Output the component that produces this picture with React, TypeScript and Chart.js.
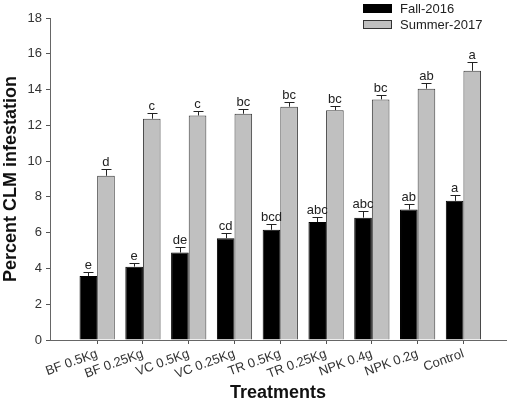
import React, { useEffect, useRef } from "react";
import { Chart, registerables } from "chart.js";

Chart.register(...registerables);

const categories = ["BF 0.5Kg", "BF 0.25Kg", "VC 0.5Kg", "VC 0.25Kg", "TR 0.5Kg", "TR 0.25Kg", "NPK 0.4g", "NPK 0.2g", "Control"];
const fall2016 = [3.58, 4.1, 4.89, 5.69, 6.16, 6.59, 6.84, 7.29, 7.78];
const fallErr = [0.24, 0.23, 0.33, 0.28, 0.31, 0.31, 0.38, 0.32, 0.35];
const fallLetters = ["e", "e", "de", "cd", "bcd", "abc", "abc", "ab", "a"];
const summer2017 = [9.18, 12.37, 12.55, 12.65, 13.04, 12.85, 13.45, 14.05, 15.05];
const summerErr = [0.37, 0.32, 0.26, 0.29, 0.26, 0.24, 0.26, 0.29, 0.47];
const summerLetters = ["d", "c", "c", "bc", "bc", "bc", "bc", "ab", "a"];
const seriesNames = ["Fall-2016", "Summer-2017"];
const yTicks = [0, 2, 4, 6, 8, 10, 12, 14, 16, 18];

const FONT = "'Liberation Sans', Arial, sans-serif";

const errorPlugin = {
  id: "errorBarsLetters",
  afterDatasetsDraw(chart: any) {
    const ctx = chart.ctx;
    const yScale = chart.scales.y;
    const errs = [fallErr, summerErr];
    const letters = [fallLetters, summerLetters];
    const vals = [fall2016, summer2017];
    ctx.save();
    chart.data.datasets.forEach((_: any, di: number) => {
      const meta = chart.getDatasetMeta(di);
      meta.data.forEach((bar: any, i: number) => {
        const x = Math.round(bar.x) + 0.5;
        const yTop = yScale.getPixelForValue(vals[di][i]);
        const yErr = Math.round(yScale.getPixelForValue(vals[di][i] + errs[di][i])) + 0.5;
        ctx.strokeStyle = "#222";
        ctx.lineWidth = 1;
        ctx.beginPath();
        ctx.moveTo(x, yTop);
        ctx.lineTo(x, yErr);
        ctx.moveTo(x - 5, yErr);
        ctx.lineTo(x + 5, yErr);
        ctx.stroke();
        ctx.fillStyle = "#222";
        ctx.font = `13px ${FONT}`;
        ctx.textAlign = "center";
        ctx.textBaseline = "alphabetic";
        ctx.fillText(letters[di][i], bar.x, yErr - 4);
      });
    });
    ctx.restore();
  },
  afterDraw(chart: any) {
    const ctx = chart.ctx;
    ctx.save();
    const fills = ["#000000", "#c0c0c0"];
    const strokes = ["#000000", "#333333"];
    seriesNames.forEach((name, i) => {
      const y = 4 + i * 16;
      ctx.fillStyle = fills[i];
      ctx.fillRect(363, y, 29, 9);
      ctx.strokeStyle = strokes[i];
      ctx.lineWidth = 1;
      ctx.strokeRect(363.5, y + 0.5, 28, 8);
      ctx.fillStyle = "#222";
      ctx.font = `13px ${FONT}`;
      ctx.textAlign = "left";
      ctx.textBaseline = "middle";
      ctx.fillText(name, 400, y + 5);
    });
    ctx.restore();
  },
};

export default function App() {
  const ref = useRef<HTMLCanvasElement>(null);
  useEffect(() => {
    if (!ref.current) return;
    const chart = new Chart(ref.current, {
      type: "bar",
      data: {
        datasets: [
          {
            label: seriesNames[0],
            data: fall2016.map((v, i) => ({ x: i, y: v })),
            backgroundColor: "#000000",
            borderColor: "#000000",
            borderWidth: 1,
          },
          {
            label: seriesNames[1],
            data: summer2017.map((v, i) => ({ x: i, y: v })),
            backgroundColor: "#c0c0c0",
            borderColor: "#3a3a3a",
            borderWidth: 1,
          },
        ],
      },
      options: {
        responsive: false,
        animation: false,
        layout: { padding: { top: 18, right: 4, left: 0, bottom: 0 } },
        datasets: { bar: { categoryPercentage: 0.77, barPercentage: 1 } },
        plugins: { legend: { display: false }, tooltip: { enabled: false } },
        scales: {
          x: {
            type: "linear",
            offset: false,
            min: -1.03,
            max: 8.93,
            afterBuildTicks: (s: any) => {
              s.ticks = categories.map((_, i) => ({ value: i }));
            },
            afterFit: (s: any) => {
              s.height = 65;
            },
            grid: { display: true, offset: false, drawOnChartArea: false, drawTicks: true, tickLength: 4, color: "#555" },
            border: { display: true, color: "#666", width: 1 },
            ticks: {
              autoSkip: false,
              minRotation: 20,
              maxRotation: 20,
              padding: 2,
              color: "#333",
              font: { family: FONT, size: 13 },
              callback: (v: any) => categories[v as number] ?? "",
            },
            title: {
              display: true,
              text: "Treatments",
              color: "#111",
              font: { family: FONT, size: 18, weight: "bold" },
              padding: { top: 0, bottom: 1 },
            },
          },
          y: {
            min: 0,
            max: 18,
            afterBuildTicks: (s: any) => {
              s.ticks = yTicks.map((v) => ({ value: v }));
            },
            afterFit: (s: any) => {
              s.width = 50;
            },
            grid: { display: true, drawOnChartArea: false, drawTicks: true, tickLength: 4, color: "#555" },
            border: { display: true, color: "#666", width: 1 },
            ticks: {
              padding: 4,
              color: "#333",
              font: { family: FONT, size: 13 },
            },
            title: {
              display: true,
              text: "Percent CLM infestation",
              color: "#111",
              font: { family: FONT, size: 18, weight: "bold" },
              padding: 0,
            },
          },
        },
      },
      plugins: [errorPlugin],
    });
    return () => chart.destroy();
  }, []);
  return (
    <div style={{ position: "absolute", left: 0, top: 0, width: 510, height: 405, background: "#fff" }}>
      <canvas ref={ref} width={510} height={405} style={{ display: "block" }} />
    </div>
  );
}
